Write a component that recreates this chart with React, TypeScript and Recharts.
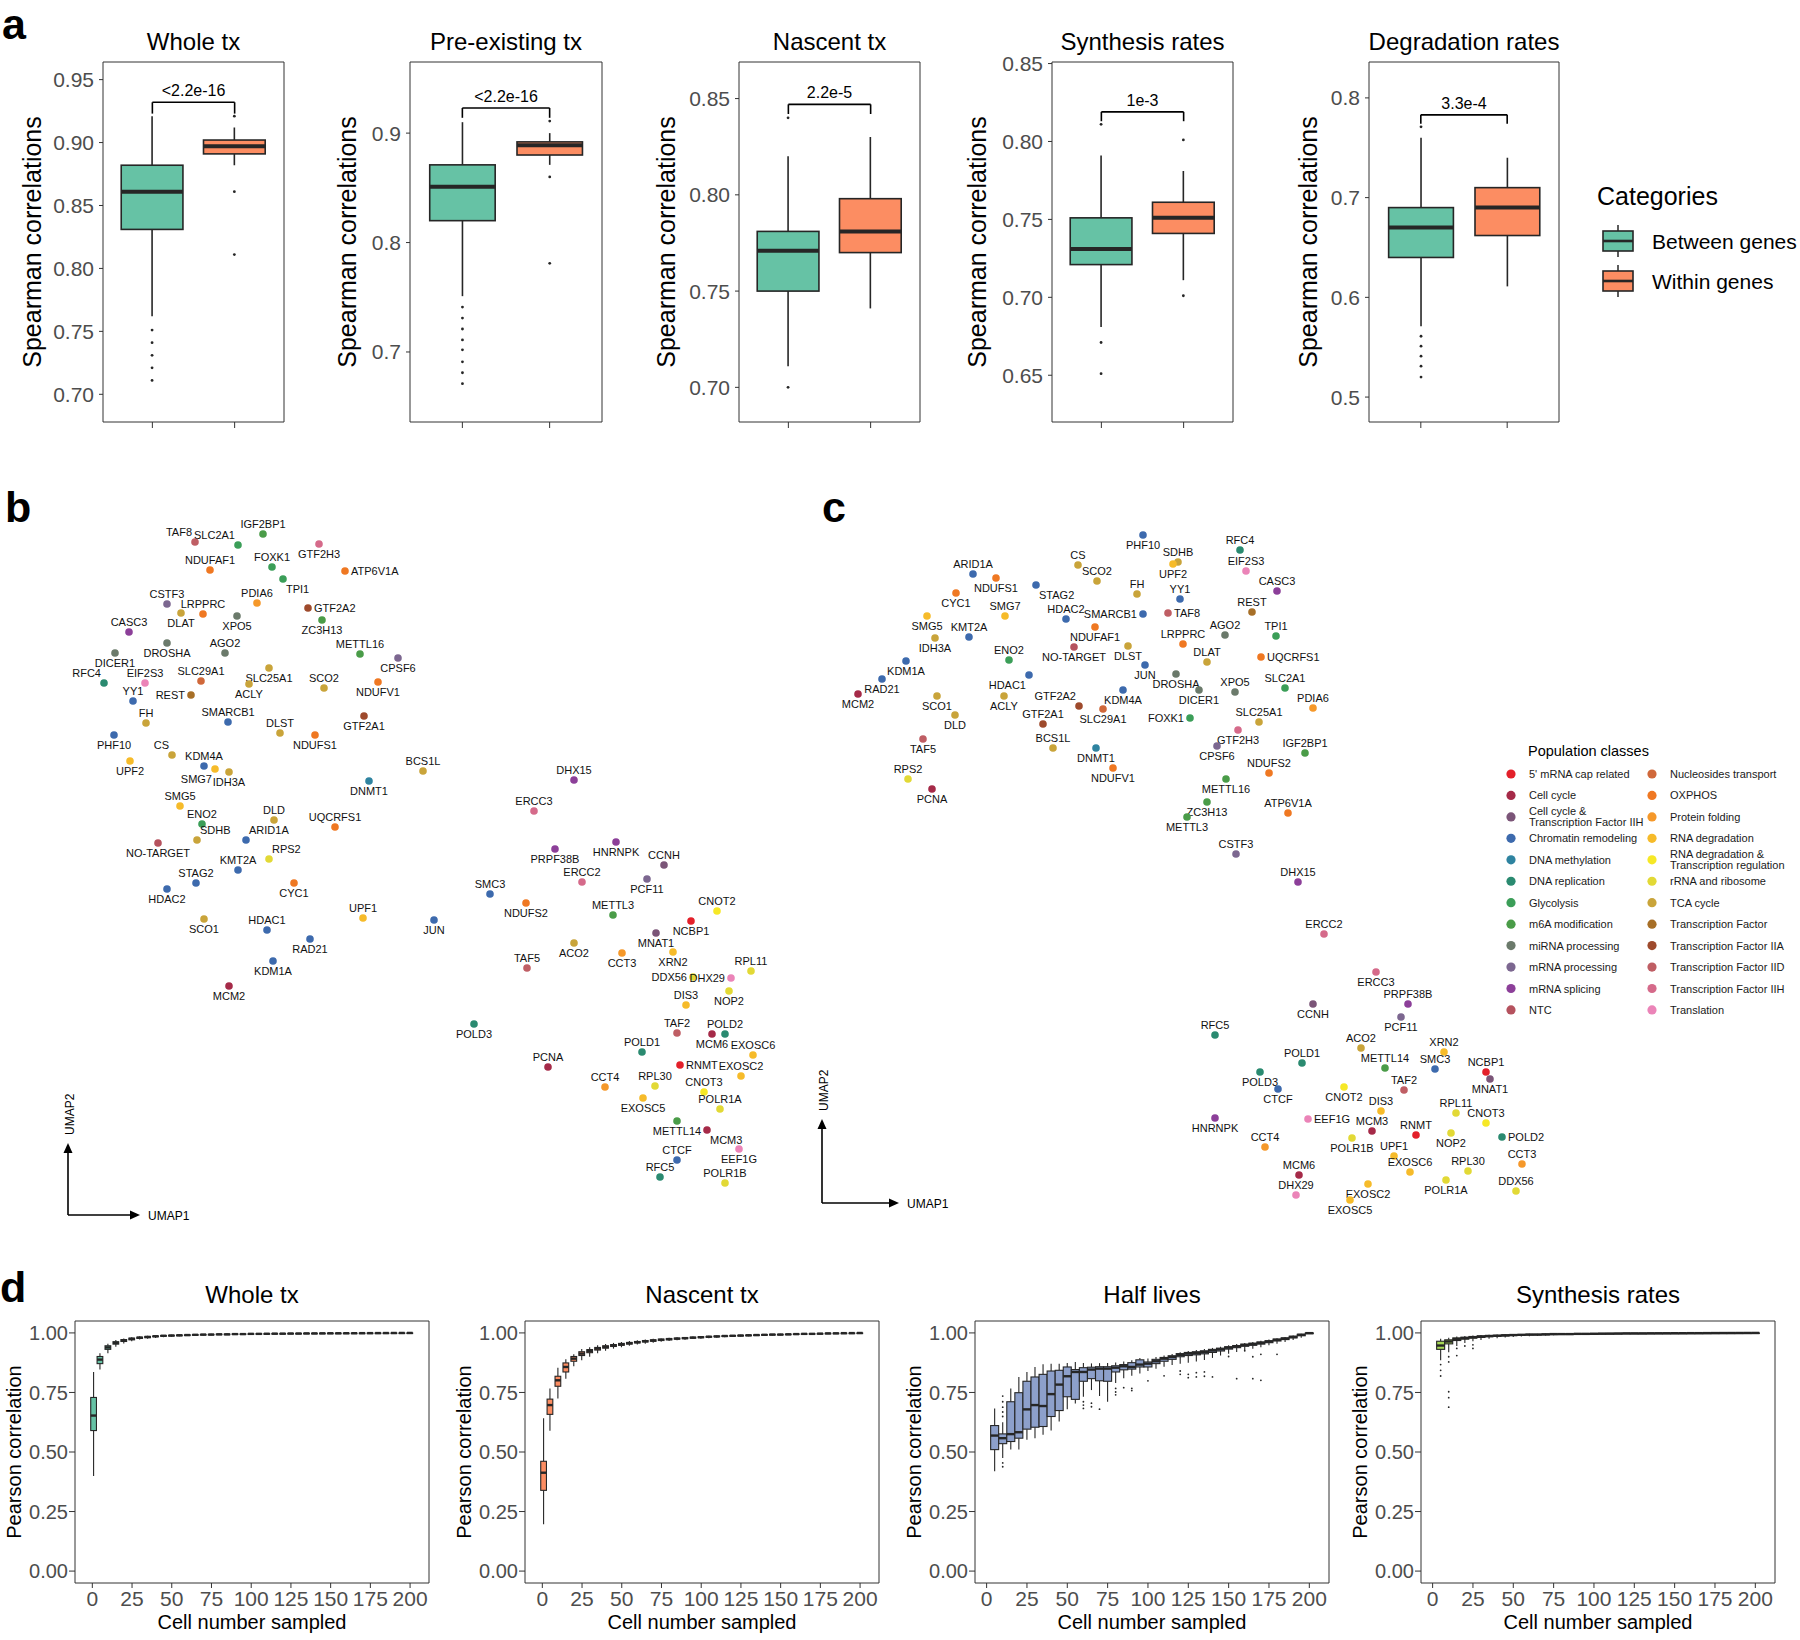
import React from "react";
import {
  ComposedChart,
  ScatterChart,
  Bar,
  Scatter,
  XAxis,
  YAxis,
  CartesianGrid,
  ReferenceLine,
  Legend,
} from "recharts";

const FONT = '"Liberation Sans", Arial, Helvetica, sans-serif';
const INK = "#262626";
const FRAME = "#333333";
const TICK_TEXT = "#4d4d4d";

// ---------- panel a : Spearman correlations ----------
const A_TITLES = ["Whole tx", "Pre-existing tx", "Nascent tx", "Synthesis rates", "Degradation rates"];
const A_CATS = ["Between genes", "Within genes"];
const A_COLORS = ["#66c2a5", "#fc8d62"];
// lower whisker, q1, median, q3, upper whisker
const A_BETWEEN = [
  [0.762, 0.831, 0.861, 0.882, 0.921],
  [0.751, 0.82, 0.851, 0.871, 0.91],
  [0.711, 0.75, 0.771, 0.781, 0.82],
  [0.681, 0.721, 0.731, 0.751, 0.791],
  [0.571, 0.64, 0.67, 0.69, 0.76],
];
const A_WITHIN = [
  [0.882, 0.891, 0.897, 0.902, 0.912],
  [0.871, 0.88, 0.889, 0.892, 0.9],
  [0.741, 0.77, 0.781, 0.798, 0.83],
  [0.711, 0.741, 0.751, 0.761, 0.781],
  [0.611, 0.662, 0.69, 0.71, 0.74],
];
const A_OUT_BETWEEN = [
  [0.751, 0.741, 0.731, 0.721, 0.711],
  [0.741, 0.731, 0.721, 0.711, 0.702, 0.691, 0.681, 0.671],
  [0.84, 0.7],
  [0.811, 0.671, 0.651],
  [0.771, 0.561, 0.551, 0.541, 0.531, 0.52],
];
const A_OUT_WITHIN = [[0.921, 0.861, 0.811], [0.911, 0.86, 0.781], [], [0.801, 0.701], []];
const A_PVALUES = ["<2.2e-16", "<2.2e-16", "2.2e-5", "1e-3", "3.3e-4"];
const A_BRACKET = [0.932, 0.923, 0.847, 0.819, 0.783];
const A_BRACKET_FOOT = [0.923, 0.914, 0.842, 0.813, 0.774];
const A_DOMAINS: [number, number][] = [
  [0.678, 0.964],
  [0.636, 0.965],
  [0.682, 0.869],
  [0.62, 0.851],
  [0.475, 0.836],
];
const A_TICKS = [
  [0.7, 0.75, 0.8, 0.85, 0.9, 0.95],
  [0.7, 0.8, 0.9],
  [0.7, 0.75, 0.8, 0.85],
  [0.65, 0.7, 0.75, 0.8, 0.85],
  [0.5, 0.6, 0.7, 0.8],
];
const A_DECIMALS = [2, 1, 2, 2, 1];

// layout of panel a
const A_FRAME_LEFT = [103, 410, 739, 1052, 1369];
const A_FRAME_W = [181, 192, 181, 181, 190];
const A_LABEL_GAP = [71, 63, 73, 75, 61];
const A_AXIS_W = 95;

// ---------- panel d : subsampling ----------
const D_TITLES = ["Whole tx", "Nascent tx", "Half lives", "Synthesis rates"];
const D_COLORS = ["#66c2a5", "#fc8d62", "#8da0cb", "#a6d854"];
const D_XTICKS = [0, 25, 50, 75, 100, 125, 150, 175, 200];
const D_YTICKS = [0, 0.25, 0.5, 0.75, 1];
// cells sampled, lower whisker, q1, median, q3, upper whisker
const D_WHOLE = [
  [1, 0.399, 0.59, 0.653, 0.729, 0.836],
  [5, 0.846, 0.871, 0.888, 0.901, 0.915],
  [10, 0.915, 0.931, 0.939, 0.946, 0.955],
  [15, 0.942, 0.953, 0.958, 0.963, 0.97],
  [20, 0.956, 0.964, 0.968, 0.972, 0.977],
  [25, 0.965, 0.971, 0.975, 0.978, 0.982],
  [30, 0.972, 0.977, 0.98, 0.982, 0.986],
  [35, 0.976, 0.98, 0.983, 0.985, 0.988],
  [40, 0.979, 0.984, 0.986, 0.987, 0.99],
  [45, 0.982, 0.986, 0.988, 0.989, 0.991],
  [50, 0.984, 0.987, 0.989, 0.99, 0.992],
  [55, 0.986, 0.988, 0.99, 0.991, 0.993],
  [60, 0.987, 0.989, 0.991, 0.992, 0.994],
  [65, 0.988, 0.99, 0.992, 0.993, 0.995],
  [70, 0.989, 0.991, 0.993, 0.9935, 0.995],
  [75, 0.99, 0.992, 0.993, 0.994, 0.996],
  [80, 0.991, 0.993, 0.994, 0.995, 0.996],
  [85, 0.992, 0.993, 0.994, 0.995, 0.997],
  [90, 0.993, 0.994, 0.995, 0.996, 0.997],
  [95, 0.993, 0.994, 0.995, 0.996, 0.997],
  [100, 0.994, 0.995, 0.996, 0.9965, 0.998],
  [105, 0.994, 0.995, 0.996, 0.997, 0.998],
  [110, 0.995, 0.996, 0.9965, 0.997, 0.998],
  [115, 0.995, 0.996, 0.997, 0.9975, 0.998],
  [120, 0.995, 0.996, 0.997, 0.9975, 0.998],
  [125, 0.996, 0.997, 0.9975, 0.998, 0.999],
  [130, 0.996, 0.997, 0.9975, 0.998, 0.999],
  [135, 0.996, 0.997, 0.998, 0.9985, 0.999],
  [140, 0.997, 0.9975, 0.998, 0.9985, 0.999],
  [145, 0.997, 0.998, 0.9983, 0.9987, 0.999],
  [150, 0.997, 0.998, 0.9985, 0.999, 0.9993],
  [155, 0.997, 0.998, 0.9985, 0.999, 0.9993],
  [160, 0.998, 0.9983, 0.9988, 0.9991, 0.9995],
  [165, 0.998, 0.9984, 0.9989, 0.9992, 0.9995],
  [170, 0.998, 0.9986, 0.999, 0.9993, 0.9997],
  [175, 0.998, 0.9988, 0.9991, 0.9995, 0.9998],
  [180, 0.999, 0.999, 0.9993, 0.9996, 0.9998],
  [185, 0.999, 0.9993, 0.9995, 0.9997, 0.9999],
  [190, 0.9993, 0.9995, 0.9997, 0.9998, 0.9999],
  [195, 0.9995, 0.9997, 0.9998, 0.9999, 1.0],
  [200, 0.9997, 0.9998, 0.9999, 0.99995, 1.0],
];
const D_NASCENT = [
  [1, 0.197, 0.339, 0.413, 0.461, 0.642],
  [5, 0.589, 0.658, 0.697, 0.722, 0.767],
  [10, 0.725, 0.776, 0.801, 0.818, 0.854],
  [15, 0.808, 0.836, 0.857, 0.874, 0.889],
  [20, 0.86, 0.881, 0.892, 0.901, 0.91],
  [25, 0.885, 0.905, 0.913, 0.921, 0.932],
  [30, 0.9, 0.917, 0.924, 0.93, 0.94],
  [35, 0.915, 0.928, 0.934, 0.939, 0.948],
  [40, 0.925, 0.936, 0.941, 0.946, 0.953],
  [45, 0.934, 0.943, 0.947, 0.951, 0.958],
  [50, 0.94, 0.948, 0.952, 0.956, 0.962],
  [55, 0.946, 0.953, 0.957, 0.96, 0.966],
  [60, 0.951, 0.958, 0.961, 0.964, 0.969],
  [65, 0.955, 0.962, 0.965, 0.968, 0.972],
  [70, 0.959, 0.965, 0.968, 0.971, 0.975],
  [75, 0.963, 0.968, 0.971, 0.974, 0.977],
  [80, 0.966, 0.971, 0.974, 0.976, 0.98],
  [85, 0.969, 0.974, 0.976, 0.978, 0.982],
  [90, 0.971, 0.976, 0.978, 0.98, 0.983],
  [95, 0.974, 0.978, 0.98, 0.982, 0.985],
  [100, 0.976, 0.98, 0.982, 0.984, 0.987],
  [105, 0.978, 0.982, 0.984, 0.985, 0.988],
  [110, 0.98, 0.984, 0.985, 0.987, 0.989],
  [115, 0.982, 0.985, 0.987, 0.988, 0.99],
  [120, 0.983, 0.986, 0.988, 0.989, 0.991],
  [125, 0.985, 0.987, 0.989, 0.99, 0.992],
  [130, 0.986, 0.988, 0.99, 0.991, 0.993],
  [135, 0.987, 0.989, 0.991, 0.992, 0.994],
  [140, 0.988, 0.99, 0.992, 0.993, 0.994],
  [145, 0.989, 0.991, 0.993, 0.994, 0.995],
  [150, 0.99, 0.992, 0.993, 0.994, 0.996],
  [155, 0.991, 0.993, 0.994, 0.995, 0.996],
  [160, 0.992, 0.994, 0.995, 0.996, 0.997],
  [165, 0.993, 0.995, 0.996, 0.9965, 0.997],
  [170, 0.994, 0.995, 0.996, 0.997, 0.998],
  [175, 0.995, 0.996, 0.997, 0.9975, 0.998],
  [180, 0.996, 0.997, 0.998, 0.9985, 0.999],
  [185, 0.997, 0.998, 0.9983, 0.999, 0.9993],
  [190, 0.998, 0.9983, 0.999, 0.9992, 0.9995],
  [195, 0.998, 0.999, 0.9992, 0.9995, 0.9998],
  [200, 0.9993, 0.9995, 0.9997, 0.9998, 1.0],
];
const D_HALF = [
  [5, 0.419, 0.51, 0.569, 0.611, 0.683],
  [10, 0.475, 0.535, 0.558, 0.576, 0.625],
  [15, 0.51, 0.544, 0.575, 0.711, 0.767],
  [20, 0.51, 0.558, 0.583, 0.749, 0.815],
  [25, 0.551, 0.596, 0.679, 0.797, 0.836],
  [30, 0.558, 0.604, 0.697, 0.815, 0.857],
  [35, 0.572, 0.607, 0.693, 0.826, 0.868],
  [40, 0.59, 0.649, 0.743, 0.84, 0.871],
  [45, 0.628, 0.674, 0.783, 0.843, 0.871],
  [50, 0.679, 0.732, 0.818, 0.857, 0.874],
  [55, 0.704, 0.721, 0.836, 0.846, 0.878],
  [60, 0.732, 0.797, 0.836, 0.854, 0.874],
  [65, 0.76, 0.808, 0.846, 0.856, 0.872],
  [70, 0.735, 0.799, 0.85, 0.858, 0.873],
  [75, 0.711, 0.797, 0.85, 0.858, 0.874],
  [80, 0.79, 0.836, 0.854, 0.862, 0.876],
  [85, 0.81, 0.845, 0.86, 0.867, 0.88],
  [90, 0.82, 0.848, 0.857, 0.875, 0.885],
  [95, 0.83, 0.857, 0.867, 0.887, 0.895],
  [100, 0.84, 0.857, 0.871, 0.878, 0.893],
  [105, 0.85, 0.871, 0.881, 0.889, 0.899],
  [110, 0.858, 0.881, 0.892, 0.897, 0.905],
  [115, 0.865, 0.889, 0.899, 0.904, 0.911],
  [120, 0.87, 0.9, 0.908, 0.913, 0.919],
  [125, 0.875, 0.905, 0.913, 0.918, 0.924],
  [130, 0.88, 0.908, 0.915, 0.921, 0.928],
  [135, 0.886, 0.912, 0.919, 0.925, 0.932],
  [140, 0.895, 0.918, 0.926, 0.931, 0.937],
  [145, 0.905, 0.924, 0.931, 0.936, 0.942],
  [150, 0.912, 0.932, 0.938, 0.942, 0.948],
  [155, 0.92, 0.938, 0.943, 0.947, 0.953],
  [160, 0.928, 0.944, 0.949, 0.953, 0.958],
  [165, 0.934, 0.948, 0.953, 0.957, 0.962],
  [170, 0.94, 0.953, 0.958, 0.962, 0.967],
  [175, 0.948, 0.959, 0.964, 0.967, 0.972],
  [180, 0.955, 0.966, 0.971, 0.974, 0.978],
  [185, 0.962, 0.972, 0.976, 0.979, 0.983],
  [190, 0.97, 0.979, 0.983, 0.986, 0.989],
  [195, 0.98, 0.988, 0.992, 0.994, 0.996],
  [200, 0.995, 0.998, 0.999, 0.9995, 1.0],
];
const D_SYNTH = [
  [5, 0.885, 0.931, 0.947, 0.965, 0.975],
  [10, 0.919, 0.954, 0.964, 0.971, 0.98],
  [15, 0.945, 0.968, 0.974, 0.979, 0.985],
  [20, 0.958, 0.974, 0.978, 0.982, 0.987],
  [25, 0.965, 0.978, 0.982, 0.985, 0.989],
  [30, 0.97, 0.981, 0.985, 0.987, 0.991],
  [35, 0.975, 0.984, 0.987, 0.989, 0.992],
  [40, 0.978, 0.986, 0.988, 0.99, 0.993],
  [45, 0.981, 0.987, 0.99, 0.991, 0.994],
  [50, 0.983, 0.989, 0.991, 0.992, 0.995],
  [55, 0.985, 0.99, 0.992, 0.993, 0.995],
  [60, 0.986, 0.991, 0.993, 0.994, 0.996],
  [65, 0.988, 0.992, 0.993, 0.994, 0.996],
  [70, 0.989, 0.992, 0.994, 0.995, 0.997],
  [75, 0.99, 0.993, 0.995, 0.9955, 0.997],
  [80, 0.991, 0.994, 0.995, 0.996, 0.997],
  [85, 0.992, 0.994, 0.995, 0.996, 0.998],
  [90, 0.993, 0.995, 0.996, 0.9965, 0.998],
  [95, 0.993, 0.995, 0.996, 0.997, 0.998],
  [100, 0.994, 0.996, 0.9965, 0.997, 0.998],
  [105, 0.994, 0.996, 0.997, 0.9975, 0.998],
  [110, 0.995, 0.996, 0.997, 0.998, 0.999],
  [115, 0.995, 0.997, 0.9975, 0.998, 0.999],
  [120, 0.996, 0.997, 0.998, 0.9985, 0.999],
  [125, 0.996, 0.997, 0.998, 0.9985, 0.999],
  [130, 0.996, 0.997, 0.998, 0.9985, 0.999],
  [135, 0.997, 0.998, 0.9983, 0.9988, 0.9993],
  [140, 0.997, 0.998, 0.9984, 0.9989, 0.9995],
  [145, 0.997, 0.998, 0.9985, 0.999, 0.9995],
  [150, 0.997, 0.998, 0.9987, 0.999, 0.9995],
  [155, 0.998, 0.9983, 0.9988, 0.9991, 0.9995],
  [160, 0.998, 0.9985, 0.999, 0.9993, 0.9996],
  [165, 0.998, 0.9986, 0.999, 0.9994, 0.9997],
  [170, 0.998, 0.9988, 0.9992, 0.9995, 0.9997],
  [175, 0.999, 0.9992, 0.9994, 0.9996, 0.9998],
  [180, 0.999, 0.9993, 0.9995, 0.9997, 0.9998],
  [185, 0.9992, 0.9994, 0.9996, 0.9997, 0.9999],
  [190, 0.9994, 0.9996, 0.9997, 0.9998, 0.9999],
  [195, 0.9996, 0.9997, 0.9998, 0.9999, 1.0],
  [200, 0.9997, 0.9998, 0.9999, 0.99995, 1.0],
];
const D_HALF_OUT: Record<number, number[]> = {
  10: [0.649, 0.668, 0.688, 0.711, 0.735, 0.454, 0.438],
  60: [0.711, 0.697, 0.683],
  65: [0.705, 0.69],
  70: [0.68],
  80: [0.767, 0.752, 0.74],
  85: [0.77],
  90: [0.767, 0.758],
  100: [0.799],
  110: [0.82],
  120: [0.84, 0.826],
  125: [0.826, 0.812],
  130: [0.833, 0.815],
  135: [0.836, 0.818],
  140: [0.815],
  150: [0.901],
  155: [0.808],
  160: [0.925],
  165: [0.808, 0.9],
  170: [0.801, 0.91],
  180: [0.91],
};
const D_SYNTH_OUT: Record<number, number[]> = {
  5: [0.867, 0.843, 0.819],
  10: [0.9, 0.878, 0.753, 0.728, 0.688],
  15: [0.935, 0.905],
  20: [0.945],
  25: [0.95, 0.935],
};
const D_SERIES = [D_WHOLE, D_NASCENT, D_HALF, D_SYNTH];
const D_OUTLIERS: Record<number, number[]>[] = [{}, {}, D_HALF_OUT, D_SYNTH_OUT];
const D_XDOMAINS: [number, number][] = [
  [-10.9, 211.9],
  [-10.9, 211.9],
  [-7.2, 212.2],
  [-7.2, 212.2],
];

// layout of panel d
const D_FRAME_LEFT = [75, 525, 975, 1421];
const D_FRAME_W = 354;
const D_BOX_PX = 8;
const D_AXIS_W = 75;
const D_TOP = 1300;

// ---------- panels b / c : UMAP of perturbations ----------
const CLASSES = [
  "5' mRNA cap related",
  "Cell cycle",
  "Cell cycle & Transcription Factor IIH",
  "Chromatin remodeling",
  "DNA methylation",
  "DNA replication",
  "Glycolysis",
  "m6A modification",
  "miRNA processing",
  "mRNA processing",
  "mRNA splicing",
  "NTC",
  "Nucleosides transport",
  "OXPHOS",
  "Protein folding",
  "RNA degradation",
  "RNA degradation & Transcription regulation",
  "rRNA and ribosome",
  "TCA cycle",
  "Transcription Factor",
  "Transcription Factor IIA",
  "Transcription Factor IID",
  "Transcription Factor IIH",
  "Translation",
];
const CLASS_COLORS = [
  "#e3202a", "#a52a48", "#7b5578", "#3d6aad", "#2e83a0", "#2a8a70",
  "#3b9e58", "#4a9c48", "#6b7a6b", "#7c6790", "#8c3f99", "#b5525e",
  "#d0683a", "#ef7822", "#f5982a", "#f6bb2a", "#f6e826", "#e2d936",
  "#c9a43a", "#a76f27", "#9e4a2c", "#bf5e64", "#d56a8a", "#eb84b8",
];
const CLASS_MEMBERS = [
  ["NCBP1", "RNMT"],
  ["MCM2", "MCM3", "MCM6", "PCNA"],
  ["CCNH", "MNAT1"],
  ["ARID1A", "SMARCB1", "PHF10", "YY1", "KDM4A", "KDM1A", "KMT2A", "STAG2", "HDAC1", "HDAC2", "RAD21", "SMC3", "CTCF", "JUN"],
  ["DNMT1"],
  ["RFC4", "RFC5", "POLD1", "POLD2", "POLD3"],
  ["ENO2", "TPI1", "SLC2A1", "FOXK1"],
  ["METTL3", "METTL14", "METTL16", "ZC3H13", "IGF2BP1"],
  ["DROSHA", "DICER1", "AGO2", "XPO5"],
  ["CSTF3", "CPSF6", "PCF11"],
  ["CASC3", "DHX15", "PRPF38B", "HNRNPK"],
  ["NO-TARGET"],
  ["SLC29A1"],
  ["NDUFAF1", "ATP6V1A", "LRPPRC", "NDUFV1", "NDUFS1", "NDUFS2", "UQCRFS1", "CYC1"],
  ["PDIA6", "CCT3", "CCT4"],
  ["SMG5", "SMG7", "UPF1", "UPF2", "XRN2", "DIS3", "EXOSC2", "EXOSC5", "EXOSC6"],
  ["CNOT2", "CNOT3"],
  ["RPS2", "RPL11", "RPL30", "NOP2", "DDX56", "POLR1A", "POLR1B"],
  ["DLAT", "DLST", "DLD", "CS", "FH", "IDH3A", "SDHB", "ACLY", "SLC25A1", "ACO2", "SCO1", "SCO2", "BCS1L"],
  ["REST"],
  ["GTF2A1", "GTF2A2"],
  ["TAF2", "TAF5", "TAF8"],
  ["GTF2H3", "ERCC2", "ERCC3"],
  ["EIF2S3", "EEF1G", "DHX29"],
];

// gene, UMAP1, UMAP2 (arbitrary units)
const UMAP_B: [string, number, number][] = [
  ["TAF8", 19.5, 69.8], ["SLC2A1", 23.8, 69.5], ["IGF2BP1", 26.3, 70.6], ["GTF2H3", 31.9, 69.6],
  ["NDUFAF1", 21.0, 67.0], ["FOXK1", 27.2, 67.3], ["TPI1", 28.3, 66.1], ["ATP6V1A", 34.5, 66.9],
  ["CSTF3", 16.7, 63.6], ["LRPPRC", 20.3, 62.6], ["PDIA6", 25.7, 63.7], ["DLAT", 18.1, 62.7],
  ["XPO5", 23.7, 62.4], ["GTF2A2", 30.8, 63.2], ["ZC3H13", 32.2, 62.0], ["CASC3", 12.9, 60.8],
  ["DROSHA", 16.7, 59.7], ["AGO2", 22.5, 58.7], ["DICER1", 11.5, 58.7], ["METTL16", 36.0, 58.6],
  ["CPSF6", 39.8, 58.2], ["RFC4", 10.4, 55.7], ["EIF2S3", 14.5, 55.7], ["SLC29A1", 20.1, 55.9],
  ["SLC25A1", 26.9, 57.2], ["ACLY", 24.9, 55.6], ["SCO2", 32.4, 55.2], ["NDUFV1", 37.8, 55.8],
  ["YY1", 13.3, 53.9], ["REST", 19.1, 54.5], ["FH", 14.6, 51.7], ["SMARCB1", 22.8, 51.8],
  ["DLST", 28.0, 50.7], ["GTF2A1", 36.4, 52.4], ["NDUFS1", 31.5, 50.5], ["PHF10", 11.4, 50.5],
  ["CS", 17.2, 48.5], ["KDM4A", 20.4, 47.4], ["SMG7", 21.5, 47.1], ["IDH3A", 22.9, 46.8],
  ["UPF2", 13.0, 47.9], ["BCS1L", 42.3, 46.9], ["DNMT1", 36.9, 45.9], ["SMG5", 18.0, 43.4],
  ["ENO2", 20.2, 41.6], ["DLD", 27.4, 42.0], ["UQCRFS1", 33.5, 41.3], ["SDHB", 19.7, 40.0],
  ["ARID1A", 24.6, 40.0], ["NO-TARGET", 15.8, 39.7], ["RPS2", 26.9, 38.1], ["KMT2A", 23.8, 37.0],
  ["STAG2", 19.6, 35.7], ["CYC1", 29.4, 35.7], ["HDAC2", 16.7, 35.1], ["SCO1", 20.4, 32.1],
  ["HDAC1", 26.7, 31.0], ["UPF1", 36.3, 32.2], ["JUN", 43.4, 32.0], ["RAD21", 31.0, 30.1],
  ["KDM1A", 27.3, 27.9], ["MCM2", 22.9, 25.4], ["POLD3", 47.4, 21.6], ["DHX15", 57.4, 46.0],
  ["ERCC3", 53.4, 42.9], ["PRPF38B", 55.5, 39.1], ["HNRNPK", 61.6, 39.8], ["CCNH", 66.4, 37.5],
  ["ERCC2", 58.2, 35.8], ["PCF11", 64.7, 36.1], ["SMC3", 49.0, 34.6], ["NDUFS2", 52.6, 33.7],
  ["METTL3", 61.3, 32.5], ["CNOT2", 71.7, 32.9], ["NCBP1", 69.1, 31.9], ["MNAT1", 65.6, 30.7],
  ["ACO2", 57.4, 29.7], ["CCT3", 62.2, 28.7], ["XRN2", 67.3, 28.8], ["TAF5", 52.7, 27.2],
  ["RPL11", 75.1, 26.9], ["DDX56", 69.3, 26.3], ["DHX29", 73.1, 26.2], ["NOP2", 72.9, 24.9],
  ["DIS3", 68.6, 23.5], ["TAF2", 67.7, 20.7], ["MCM6", 71.2, 20.6], ["POLD2", 72.5, 20.6],
  ["POLD1", 64.2, 18.8], ["EXOSC6", 75.3, 18.5], ["PCNA", 54.8, 17.3], ["RNMT", 68.0, 17.5],
  ["EXOSC2", 74.1, 16.4], ["CCT4", 60.5, 15.3], ["RPL30", 65.5, 15.4], ["CNOT3", 70.4, 14.8],
  ["EXOSC5", 64.3, 14.2], ["POLR1A", 72.0, 13.1], ["METTL14", 67.7, 11.9], ["MCM3", 70.7, 11.0],
  ["EEF1G", 73.9, 9.1], ["CTCF", 67.7, 8.0], ["RFC5", 66.0, 6.3], ["POLR1B", 72.5, 5.7],
];

// gene, UMAP1, UMAP2 (arbitrary units)
const UMAP_C: [string, number, number][] = [
  ["PHF10", 32.3, 70.5], ["CS", 25.8, 67.5], ["SDHB", 35.8, 67.8], ["UPF2", 35.3, 67.6],
  ["ARID1A", 15.3, 66.6], ["NDUFS1", 17.6, 66.2], ["SCO2", 27.7, 65.9], ["STAG2", 21.6, 65.5],
  ["CYC1", 13.6, 64.7], ["FH", 31.7, 64.6], ["YY1", 36.0, 64.1], ["SMG7", 18.5, 62.4],
  ["SMG5", 10.7, 62.4], ["HDAC2", 24.6, 62.1], ["SMARCB1", 32.3, 62.6], ["TAF8", 34.8, 62.7],
  ["KMT2A", 14.9, 60.3], ["NDUFAF1", 27.5, 61.3], ["IDH3A", 11.5, 60.2], ["AGO2", 40.5, 60.5],
  ["LRPPRC", 36.3, 59.6], ["NO-TARGET", 25.4, 59.3], ["DLST", 30.8, 59.4], ["ENO2", 18.9, 58.0],
  ["KDM1A", 8.6, 57.9], ["DLAT", 38.7, 57.8], ["JUN", 32.5, 57.5], ["DROSHA", 35.6, 56.6],
  ["HDAC1", 20.9, 56.5], ["RAD21", 6.2, 56.1], ["KDM4A", 30.3, 55.0], ["DICER1", 37.9, 55.0],
  ["XPO5", 41.5, 54.8], ["MCM2", 3.8, 54.6], ["SCO1", 11.7, 54.4], ["ACLY", 18.4, 54.4],
  ["GTF2A2", 25.9, 53.4], ["SLC29A1", 28.3, 53.1], ["DLD", 13.5, 52.5], ["FOXK1", 37.0, 52.2],
  ["GTF2A1", 22.3, 51.6], ["GTF2H3", 41.8, 51.0], ["TAF5", 10.3, 50.1], ["BCS1L", 23.3, 49.2],
  ["DNMT1", 27.6, 49.2], ["CPSF6", 39.7, 49.4], ["NDUFV1", 29.3, 47.2], ["RPS2", 8.8, 46.1],
  ["METTL16", 40.6, 46.1], ["PCNA", 11.2, 45.1], ["ZC3H13", 38.7, 43.8], ["METTL3", 36.7, 42.3],
  ["RFC4", 42.0, 69.0], ["EIF2S3", 42.6, 66.9], ["CASC3", 45.7, 64.9], ["REST", 43.2, 62.8],
  ["TPI1", 45.6, 60.4], ["UQCRFS1", 44.1, 58.3], ["SLC2A1", 46.5, 55.2], ["PDIA6", 49.3, 53.2],
  ["SLC25A1", 43.9, 51.8], ["IGF2BP1", 48.5, 48.7], ["NDUFS2", 44.9, 46.7], ["ATP6V1A", 46.8, 42.7],
  ["CSTF3", 41.6, 38.6], ["DHX15", 47.8, 35.8], ["ERCC2", 50.4, 30.6], ["ERCC3", 55.6, 26.8],
  ["PRPF38B", 58.8, 23.6], ["CCNH", 49.3, 23.6], ["PCF11", 58.1, 22.3], ["RFC5", 39.5, 20.5],
  ["ACO2", 54.1, 19.2], ["XRN2", 62.4, 18.8], ["POLD1", 48.2, 17.7], ["METTL14", 56.5, 17.2],
  ["SMC3", 61.5, 17.1], ["NCBP1", 66.6, 16.8], ["MNAT1", 67.0, 16.1], ["POLD3", 44.0, 16.8],
  ["CTCF", 45.8, 15.1], ["CNOT2", 52.4, 15.3], ["TAF2", 58.4, 15.0], ["DIS3", 56.1, 12.9],
  ["RPL11", 63.6, 12.7], ["EEF1G", 48.8, 12.1], ["HNRNPK", 39.5, 12.2], ["CNOT3", 66.6, 11.7],
  ["MCM3", 55.2, 10.9], ["RNMT", 59.6, 10.5], ["NOP2", 63.1, 10.7], ["POLD2", 68.2, 10.3],
  ["CCT4", 44.5, 9.3], ["POLR1B", 53.2, 10.2], ["UPF1", 57.4, 8.4], ["CCT3", 70.2, 7.6],
  ["EXOSC6", 59.0, 6.8], ["RPL30", 64.8, 6.9], ["MCM6", 47.9, 6.5], ["POLR1A", 62.6, 6.0],
  ["DDX56", 69.6, 4.9], ["EXOSC2", 54.8, 5.6], ["DHX29", 47.6, 4.5], ["EXOSC5", 53.0, 4.0],
];

// where each label sits relative to its dot (default above)
const LABEL_B: Record<string, string> = {
  TAF8: "nw", SLC2A1: "nw", GTF2H3: "s", TPI1: "se", ATP6V1A: "e", GTF2A2: "e", ZC3H13: "s",
  DLAT: "s", XPO5: "s", DROSHA: "s", DICER1: "s", CPSF6: "s", RFC4: "nw", SLC25A1: "s",
  ACLY: "s", NDUFV1: "s", REST: "w", GTF2A1: "s", NDUFS1: "s", PHF10: "s", CS: "nw",
  SMG7: "sw", IDH3A: "s", UPF2: "s", DNMT1: "s", SDHB: "ne", ARID1A: "ne", "NO-TARGET": "s",
  RPS2: "ne", CYC1: "s", HDAC2: "s", SCO1: "s", JUN: "s", RAD21: "s", KDM1A: "s", MCM2: "s",
  POLD3: "s", PRPF38B: "s", HNRNPK: "s", PCF11: "s", NDUFS2: "s", NCBP1: "s", MNAT1: "s",
  ACO2: "s", CCT3: "s", XRN2: "s", DDX56: "w", DHX29: "w", NOP2: "s", MCM6: "s", RNMT: "e",
  EXOSC5: "s", METTL14: "s", MCM3: "se", EEF1G: "s",
};
const LABEL_C: Record<string, string> = {
  PHF10: "s", UPF2: "s", NDUFS1: "s", STAG2: "se", CYC1: "s", SMG5: "s", SMARCB1: "w",
  TAF8: "e", NDUFAF1: "s", IDH3A: "s", "NO-TARGET": "s", DLST: "s", KDM1A: "s", JUN: "s",
  DROSHA: "s", HDAC1: "sw", RAD21: "s", KDM4A: "s", DICER1: "s", MCM2: "s", SCO1: "s",
  ACLY: "s", GTF2A2: "nw", SLC29A1: "s", DLD: "s", FOXK1: "w", GTF2H3: "s", TAF5: "s",
  DNMT1: "s", CPSF6: "s", NDUFV1: "s", METTL16: "s", PCNA: "s", ZC3H13: "s", METTL3: "s",
  UQCRFS1: "e", ERCC3: "s", CCNH: "s", PCF11: "s", MNAT1: "s", POLD3: "s", CTCF: "s",
  CNOT2: "s", EEF1G: "e", HNRNPK: "s", NOP2: "s", POLD2: "e", POLR1B: "s", POLR1A: "s",
  EXOSC2: "s", EXOSC5: "s",
};
const LABEL_OFFSETS: Record<string, [number, number, "start" | "middle" | "end"]> = {
  n: [0, -6, "middle"],
  s: [0, 14, "middle"],
  e: [6, 4, "start"],
  w: [-6, 4, "end"],
  ne: [3, -6, "start"],
  nw: [-3, -6, "end"],
  se: [3, 14, "start"],
  sw: [-3, 14, "end"],
};

const GENE_COLOR: Record<string, string> = {};
CLASS_MEMBERS.forEach((genes, k) => genes.forEach((g) => (GENE_COLOR[g] = CLASS_COLORS[k])));

// ---------- shared drawing helpers ----------
type BoxRow = { lo: number; q1: number; med: number; q3: number; hi: number; out: number[]; color: string };

function makeBoxShape(line: number, medLine: number, dotR: number) {
  return (props: any) => {
    const { x, y, width, height, payload } = props;
    const p = payload as BoxRow;
    if (x == null || y == null || !p) return <g />;
    const top = Math.min(y, y + height);
    const bot = Math.max(y, y + height);
    const span = p.hi - p.lo;
    const py = (v: number) => (span > 0 ? top + ((p.hi - v) / span) * (bot - top) : top);
    const cx = x + width / 2;
    const yq3 = py(p.q3);
    const yq1 = py(p.q1);
    return (
      <g>
        <line x1={cx} x2={cx} y1={py(p.hi)} y2={yq3} stroke={INK} strokeWidth={line} />
        <line x1={cx} x2={cx} y1={yq1} y2={py(p.lo)} stroke={INK} strokeWidth={line} />
        <rect x={x} y={yq3} width={width} height={Math.max(yq1 - yq3, 0.6)} fill={p.color} stroke={INK} strokeWidth={line} />
        <line x1={x} x2={x + width} y1={py(p.med)} y2={py(p.med)} stroke={INK} strokeWidth={medLine} />
        {p.out.map((v, k) => (
          <circle key={k} cx={cx} cy={py(v)} r={dotR} fill={INK} />
        ))}
      </g>
    );
  };
}

const frameV = ({ offset }: any) => [offset.left, offset.left + offset.width];
const frameH = ({ offset }: any) => [offset.top, offset.top + offset.height];

const yTitle = (text: string, gap: number, size: number) => (props: any) => {
  const vb = props.viewBox;
  const x = vb.x + vb.width - gap;
  const y = vb.y + vb.height / 2;
  return (
    <text x={x} y={y} transform={`rotate(-90 ${x} ${y})`} textAnchor="middle" dominantBaseline="central" fontSize={size} fill="#000">
      {text}
    </text>
  );
};

const xTitle = (text: string, dy: number, size: number) => (props: any) => {
  const vb = props.viewBox;
  return (
    <text x={vb.x + vb.width / 2} y={vb.y + dy} textAnchor="middle" dominantBaseline="central" fontSize={size} fill="#000">
      {text}
    </text>
  );
};

const CategoriesLegend = () => (
  <svg width={210} height={130} style={{ display: "block", overflow: "visible" }}>
    <text x={0} y={30} fontSize={25} fill="#000">
      Categories
    </text>
    {A_CATS.map((c, i) => {
      const cy = 66 + i * 40;
      return (
        <g key={c}>
          <line x1={21} x2={21} y1={cy - 16} y2={cy + 16} stroke={INK} strokeWidth={1.5} />
          <rect x={6} y={cy - 10} width={30} height={20} fill={A_COLORS[i]} stroke={INK} strokeWidth={1.6} />
          <line x1={6} x2={36} y1={cy} y2={cy} stroke={INK} strokeWidth={2.6} />
          <text x={55} y={cy} dominantBaseline="central" fontSize={21} fill="#000">
            {c}
          </text>
        </g>
      );
    })}
  </svg>
);

const PopulationLegend = () => {
  const half = CLASSES.length / 2;
  return (
    <svg width={305} height={300} style={{ display: "block", overflow: "visible" }}>
      <text x={33} y={26} fontSize={14.5} fill="#000">
        Population classes
      </text>
      {CLASSES.map((name, k) => {
        const col = k < half ? 0 : 1;
        const row = k % half;
        const cy = 44 + row * 21.45;
        const dx = col === 0 ? 16 : 157;
        const parts = name.includes(" & ") ? [name.split(" & ")[0] + " &", name.split(" & ")[1]] : [name];
        return (
          <g key={name}>
            <circle cx={dx} cy={cy} r={4.6} fill={CLASS_COLORS[k]} />
            {parts.map((t, j) => (
              <text
                key={j}
                x={dx + 18}
                y={cy + (parts.length > 1 ? (j === 0 ? -5.5 : 5.5) : 0)}
                dominantBaseline="central"
                fontSize={11}
                fill="#1a1a1a"
              >
                {t}
              </text>
            ))}
          </g>
        );
      })}
    </svg>
  );
};

// ---------- panel a component ----------
function SpearmanPanel({ i }: { i: number }) {
  const fw = A_FRAME_W[i];
  const unit = fw / 2.2;
  const rows = A_CATS.map((cat, k) => {
    const s = k === 0 ? A_BETWEEN[i] : A_WITHIN[i];
    return {
      cat,
      lo: s[0],
      q1: s[1],
      med: s[2],
      q3: s[3],
      hi: s[4],
      out: k === 0 ? A_OUT_BETWEEN[i] : A_OUT_WITHIN[i],
      color: A_COLORS[k],
    };
  });
  const last = i === A_TITLES.length - 1;
  const left = A_FRAME_LEFT[i] - A_AXIS_W;
  const rightMargin = last ? 1800 - A_FRAME_LEFT[i] - fw : 10;
  const width = A_AXIS_W + fw + rightMargin;
  const dec = A_DECIMALS[i];
  return (
    <div style={{ position: "absolute", left, top: 0 }}>
      <ComposedChart width={width} height={440} data={rows} margin={{ top: 62, right: rightMargin, bottom: 0, left: 0 }}>
        <CartesianGrid stroke={FRAME} strokeWidth={1} fill="none" verticalCoordinatesGenerator={frameV} horizontalCoordinatesGenerator={frameH} />
        <XAxis
          dataKey="cat"
          type="category"
          padding={{ left: 0.1 * unit, right: 0.1 * unit }}
          axisLine={false}
          tickLine={{ stroke: FRAME }}
          tickSize={6}
          tickFormatter={() => ""}
          height={18}
          interval={0}
        />
        <YAxis
          type="number"
          domain={A_DOMAINS[i]}
          ticks={A_TICKS[i]}
          allowDataOverflow
          interval={0}
          axisLine={false}
          tickLine={{ stroke: FRAME }}
          tickSize={4}
          tickMargin={5}
          width={A_AXIS_W}
          tick={{ fontSize: 21, fill: TICK_TEXT }}
          tickFormatter={(v: number) => v.toFixed(dec)}
          label={yTitle("Spearman correlations", A_LABEL_GAP[i], 25)}
        />
        <Bar dataKey={(d: any) => [d.lo, d.hi]} barSize={0.75 * unit} shape={makeBoxShape(1.6, 4, 1.4)} isAnimationActive={false} />
        <ReferenceLine
          segment={[
            { x: A_CATS[0], y: A_BRACKET[i] },
            { x: A_CATS[1], y: A_BRACKET[i] },
          ]}
          stroke="#000"
          strokeWidth={1.6}
          label={{ value: A_PVALUES[i], position: "top", offset: 6, fontSize: 16, fill: "#000" }}
        />
        {A_CATS.map((c) => (
          <ReferenceLine
            key={c}
            segment={[
              { x: c, y: A_BRACKET[i] },
              { x: c, y: A_BRACKET_FOOT[i] },
            ]}
            stroke="#000"
            strokeWidth={1.6}
          />
        ))}
        {last && (
          <Legend
            content={CategoriesLegend}
            layout="horizontal"
            verticalAlign="middle"
            align="center"
            wrapperStyle={{ position: "absolute", left: 1597 - left, top: 175, width: 210, height: 130 }}
          />
        )}
      </ComposedChart>
    </div>
  );
}

// ---------- panel d component ----------
function SubsamplePanel({ i }: { i: number }) {
  const rows = D_SERIES[i].map(([n, lo, q1, med, q3, hi]) => ({
    n,
    lo,
    q1,
    med,
    q3,
    hi,
    out: D_OUTLIERS[i][n] ?? [],
    color: D_COLORS[i],
  }));
  const right = 16;
  return (
    <div style={{ position: "absolute", left: D_FRAME_LEFT[i] - D_AXIS_W, top: D_TOP }}>
      <ComposedChart width={D_AXIS_W + D_FRAME_W + right} height={340} data={rows} margin={{ top: 21, right, bottom: 0, left: 0 }}>
        <CartesianGrid stroke={FRAME} strokeWidth={1} fill="none" verticalCoordinatesGenerator={frameV} horizontalCoordinatesGenerator={frameH} />
        <XAxis
          type="number"
          dataKey="n"
          domain={D_XDOMAINS[i]}
          ticks={D_XTICKS}
          allowDataOverflow
          interval={0}
          axisLine={false}
          tickLine={{ stroke: FRAME }}
          tickSize={5}
          tickMargin={3}
          height={57}
          tick={{ fontSize: 21, fill: TICK_TEXT }}
          label={xTitle("Cell number sampled", 39, 20)}
        />
        <YAxis
          type="number"
          domain={[-0.05, 1.05]}
          ticks={D_YTICKS}
          allowDataOverflow
          interval={0}
          axisLine={false}
          tickLine={{ stroke: FRAME }}
          tickSize={6}
          tickMargin={1}
          width={D_AXIS_W}
          tick={{ fontSize: 20, fill: TICK_TEXT }}
          tickFormatter={(v: number) => v.toFixed(2)}
          label={yTitle("Pearson correlation", 61, 20)}
        />
        <Bar dataKey={(d: any) => [d.lo, d.hi]} barSize={D_BOX_PX} shape={makeBoxShape(1.1, 2.4, 0.9)} isAnimationActive={false} />
      </ComposedChart>
    </div>
  );
}

// ---------- panels b / c component ----------
const geneShape = (labels: Record<string, string>) => (props: any) => {
  const { cx, cy, payload } = props;
  if (cx == null || cy == null || !payload) return <g />;
  const gene = payload.gene as string;
  const [dx, dy, anchor] = LABEL_OFFSETS[labels[gene] ?? "n"];
  return (
    <g>
      <circle cx={cx} cy={cy} r={3.8} fill={GENE_COLOR[gene] ?? "#999"} />
      <text x={cx + dx} y={cy + dy} textAnchor={anchor} fontSize={11} fill="#111">
        {gene}
      </text>
    </g>
  );
};

const arrowShape = (text: string, vertical: boolean) => (props: any) => {
  const { x1, y1, x2, y2 } = props;
  const ang = Math.atan2(y2 - y1, x2 - x1);
  const L = 10;
  const W = 4.5;
  const bx = x2 - L * Math.cos(ang);
  const by = y2 - L * Math.sin(ang);
  const pts = `${x2},${y2} ${bx + W * Math.sin(ang)},${by - W * Math.cos(ang)} ${bx - W * Math.sin(ang)},${by + W * Math.cos(ang)}`;
  const tx = vertical ? x2 + 2 : x2 + 8;
  const ty = vertical ? y2 - 8 : y2 + 1;
  return (
    <g>
      <line x1={x1} y1={y1} x2={bx} y2={by} stroke="#000" strokeWidth={1.6} />
      <polygon points={pts} fill="#000" />
      <text
        x={tx}
        y={ty}
        fontSize={12}
        fill="#000"
        dominantBaseline="central"
        textAnchor="start"
        transform={vertical ? `rotate(-90 ${tx} ${ty})` : undefined}
      >
        {text}
      </text>
    </g>
  );
};

function UmapPanel({
  points,
  labels,
  left,
  width,
  xDomain,
  arrow,
  legend,
}: {
  points: [string, number, number][];
  labels: Record<string, string>;
  left: number;
  width: number;
  xDomain: [number, number];
  arrow: [number, number, number, number];
  legend?: boolean;
}) {
  const data = points.map(([gene, ux, uy]) => ({ gene, ux, uy }));
  const [ox, oy, upY, rightX] = arrow;
  return (
    <div style={{ position: "absolute", left, top: 500 }}>
      <ScatterChart width={width} height={740} margin={{ top: 0, right: 0, bottom: 0, left: 0 }}>
        <XAxis type="number" dataKey="ux" domain={xDomain} allowDataOverflow hide />
        <YAxis type="number" dataKey="uy" domain={[0, 74]} allowDataOverflow hide />
        <ReferenceLine segment={[{ x: ox, y: oy }, { x: ox, y: upY }]} shape={arrowShape("UMAP2", true)} />
        <ReferenceLine segment={[{ x: ox, y: oy }, { x: rightX, y: oy }]} shape={arrowShape("UMAP1", false)} />
        <Scatter data={data} shape={geneShape(labels)} isAnimationActive={false} />
        {legend && (
          <Legend
            content={PopulationLegend}
            layout="horizontal"
            verticalAlign="middle"
            align="center"
            wrapperStyle={{ position: "absolute", left: 1495 - left, top: 230, width: 305, height: 300 }}
          />
        )}
      </ScatterChart>
    </div>
  );
}

export default function App() {
  return (
    <div
      style={{
        position: "absolute",
        left: 0,
        top: 0,
        width: 1800,
        height: 1640,
        background: "#fff",
        fontFamily: FONT,
        overflow: "hidden",
      }}
    >
      <svg width={1800} height={1640} style={{ position: "absolute", left: 0, top: 0 }}>
        <g fontWeight="bold" fontSize={43} fill="#000">
          <text x={2} y={39}>a</text>
          <text x={5} y={522}>b</text>
          <text x={822} y={522}>c</text>
          <text x={0} y={1302}>d</text>
        </g>
        {A_TITLES.map((t, i) => (
          <text key={t} x={A_FRAME_LEFT[i] + A_FRAME_W[i] / 2} y={50} textAnchor="middle" fontSize={24} fill="#000">
            {t}
          </text>
        ))}
        {D_TITLES.map((t, i) => (
          <text key={t + i} x={D_FRAME_LEFT[i] + D_FRAME_W / 2} y={1303} textAnchor="middle" fontSize={24} fill="#000">
            {t}
          </text>
        ))}
      </svg>
      {A_TITLES.map((t, i) => (
        <SpearmanPanel key={t} i={i} />
      ))}
      <UmapPanel points={UMAP_B} labels={LABEL_B} left={0} width={840} xDomain={[0, 84]} arrow={[6.8, 2.5, 9.7, 14.0]} />
      <UmapPanel points={UMAP_C} labels={LABEL_C} left={800} width={1000} xDomain={[-2, 98]} arrow={[0.2, 3.7, 12.1, 7.9]} legend />
      {D_TITLES.map((t, i) => (
        <SubsamplePanel key={t + i} i={i} />
      ))}
    </div>
  );
}
